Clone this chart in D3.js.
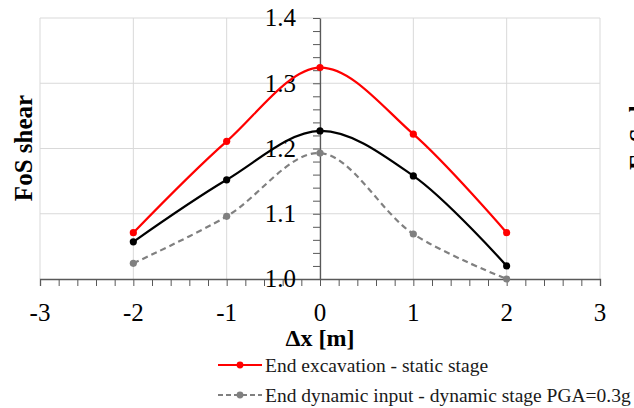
<!DOCTYPE html>
<html>
<head>
<meta charset="utf-8">
<script src="https://cdn.jsdelivr.net/npm/d3@7"></script>
<style>
  body { margin: 0; background: #fff; }
</style>
</head>
<body>
<script>
const width = 634, height = 408;
const margin = ({top: 18, right: 34, bottom: 129, left: 40});
const serif = "'Liberation Serif', 'Times New Roman', serif";

// data
const dx = [-2, -1, 0, 1, 2];
const staticStage = [1.071, 1.211, 1.324, 1.222, 1.071];
const blackSeries = [1.057, 1.152, 1.227, 1.158, 1.020];
const dynamicStage = [1.024, 1.096, 1.193, 1.069, 1.000];
const xTicks = [-3, -2, -1, 0, 1, 2, 3];
const yTicks = [1.0, 1.1, 1.2, 1.3, 1.4];
const legendNames = ["End excavation - static stage", "End dynamic input - dynamic stage PGA=0.3g"];

const series = [
  {name: legendNames[0], values: staticStage, color: "#ff0000", dash: null},
  {name: "", values: blackSeries, color: "#000000", dash: null},
  {name: legendNames[1], values: dynamicStage, color: "#808080", dash: "6,4"}
];

const x = d3.scaleLinear([-3, 3], [margin.left, width - margin.right]);
const y = d3.scaleLinear([1.0, 1.4], [height - margin.bottom, margin.top]);

const svg = d3.select("body").append("svg")
    .attr("width", width)
    .attr("height", height)
    .attr("font-family", serif);

// grid
const grid = svg.append("g").attr("stroke", "#d9d9d9").attr("stroke-width", 1);
grid.selectAll(".gx").data(xTicks).join("line")
    .attr("x1", d => x(d)).attr("x2", d => x(d))
    .attr("y1", y(1.4)).attr("y2", y(1.0));
grid.selectAll(".gy").data(yTicks.slice(1)).join("line")
    .attr("x1", x(-3)).attr("x2", x(3))
    .attr("y1", d => y(d)).attr("y2", d => y(d));

// x axis along the bottom
const xAxis = d3.axisBottom(x)
    .tickValues(d3.range(-3, 3.001, 0.2))
    .tickSize(7)
    .tickFormat("");
const gx = svg.append("g")
    .attr("transform", `translate(0,${y(1.0)})`)
    .call(xAxis);
gx.select(".domain").attr("stroke", "#595959").attr("stroke-width", 1.3);
gx.selectAll(".tick line").attr("stroke", "#595959");

svg.append("g")
    .attr("font-family", serif)
    .attr("font-size", 25)
    .attr("text-anchor", "middle")
  .selectAll("text").data(xTicks).join("text")
    .attr("x", d => x(d))
    .attr("y", y(1.0) + 42)
    .text(d => d);

// y axis drawn at x = 0
const yAxis = d3.axisLeft(y)
    .tickValues(d3.range(1.0, 1.4001, 0.02))
    .tickSize(7)
    .tickSizeOuter(0)
    .tickFormat("");
const gy = svg.append("g")
    .attr("transform", `translate(${x(0)},0)`)
    .call(yAxis);
gy.select(".domain").attr("stroke", "#595959").attr("stroke-width", 1.3);
gy.selectAll(".tick line").attr("stroke", "#595959");

svg.append("g")
    .attr("font-family", serif)
    .attr("font-size", 25)
    .attr("text-anchor", "end")
  .selectAll("text").data(yTicks).join("text")
    .attr("x", x(0) - 24)
    .attr("y", d => y(d))
    .attr("dy", "0.33em")
    .text(d => d.toFixed(1));

// lines
const line = d3.line()
    .x((d, i) => x(dx[i]))
    .y(d => y(d))
    .curve(d3.curveCatmullRom.alpha(0.5));

const lines = svg.append("g");
series.forEach(s => {
  lines.append("path")
      .attr("d", line(s.values))
      .attr("fill", "none")
      .attr("stroke", s.color)
      .attr("stroke-width", 2.2)
      .attr("stroke-dasharray", s.dash);
  lines.selectAll(null).data(s.values).join("circle")
      .attr("cx", (d, i) => x(dx[i]))
      .attr("cy", d => y(d))
      .attr("r", 3.6)
      .attr("fill", s.color);
});

// axis titles
svg.append("text")
    .attr("x", 320)
    .attr("y", 346)
    .attr("text-anchor", "middle")
    .attr("font-family", serif)
    .attr("font-weight", "bold")
    .attr("font-size", 24)
    .text("Δx [m]");

svg.append("text")
    .attr("transform", "translate(32,148) rotate(-90)")
    .attr("text-anchor", "middle")
    .attr("font-family", serif)
    .attr("font-weight", "bold")
    .attr("font-size", 25)
    .text("FoS shear");

// neighbouring chart's title, clipped at the right edge
svg.append("text")
    .attr("transform", "translate(647,170) rotate(-90)")
    .attr("text-anchor", "start")
    .attr("font-family", serif)
    .attr("font-weight", "bold")
    .attr("font-size", 25)
    .text("FoS shear");

// legend
const legendItems = [series[0], series[2]];
const legend = svg.append("g")
  .selectAll("g").data(legendItems).join("g")
    .attr("transform", (d, i) => `translate(218,${365 + i * 30})`);
legend.append("line")
    .attr("x1", 0).attr("x2", 44)
    .attr("stroke", d => d.color)
    .attr("stroke-width", 2)
    .attr("stroke-dasharray", d => d.dash ? "5,3" : null);
legend.append("circle")
    .attr("cx", 22).attr("r", 3.4)
    .attr("fill", d => d.color);
legend.append("text")
    .attr("x", 47)
    .attr("dy", "0.35em")
    .attr("font-family", serif)
    .attr("font-size", 19.5)
    .attr("fill", "#1a1a1a")
    .text(d => d.name);
</script>
</body>
</html>
